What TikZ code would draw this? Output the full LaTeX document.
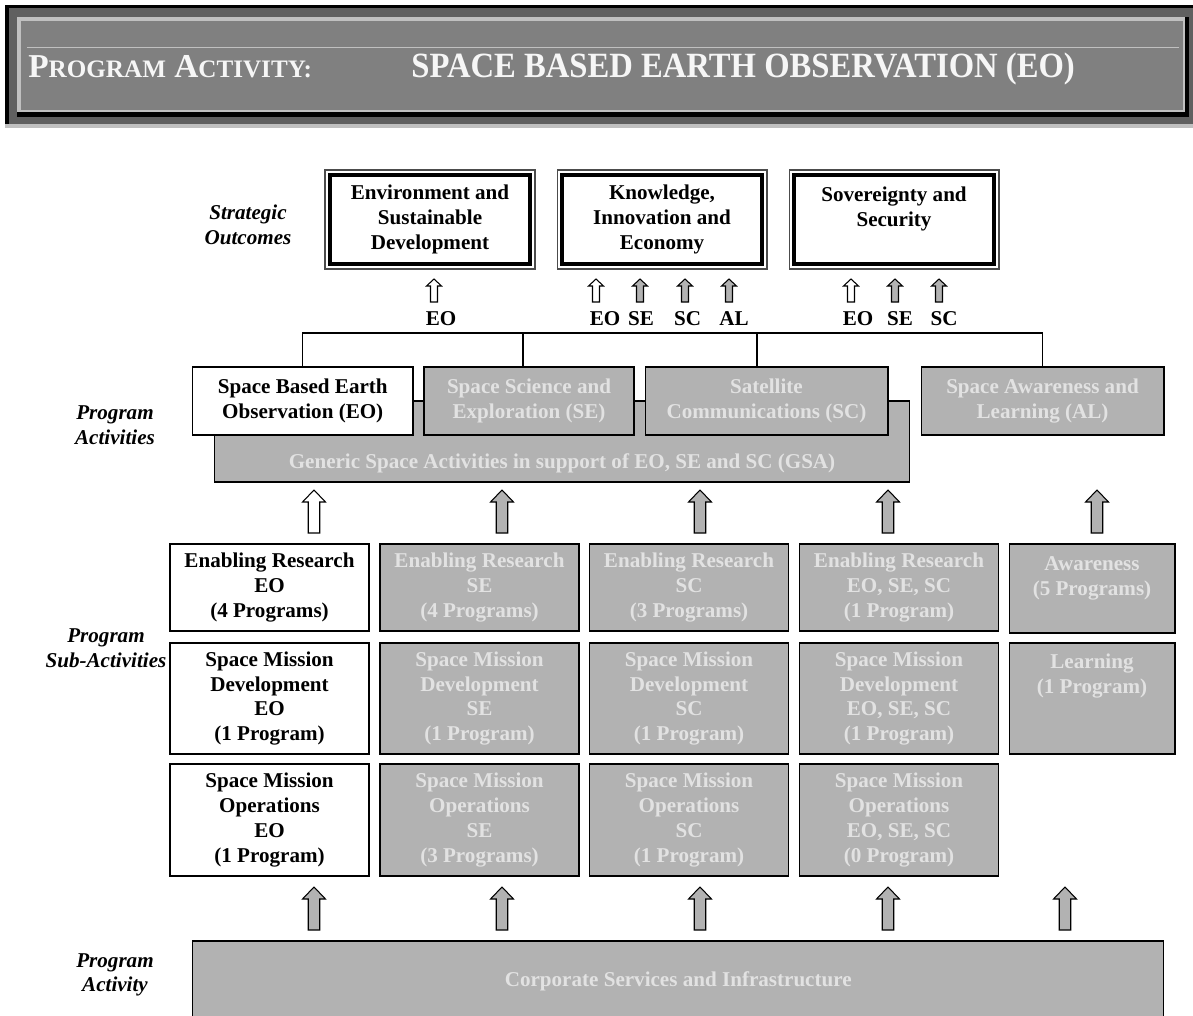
\documentclass[tikz,border=0pt]{standalone}
\usepackage{fontspec}
\setmainfont{Liberation Serif}
\newfontfamily\hdrfont[FakeStretch=0.92]{Liberation Serif}
\usetikzlibrary{calc}
\definecolor{BoxGray}{RGB}{178,178,178}
\definecolor{BoxText}{RGB}{226,226,226}
\definecolor{HdrDark}{RGB}{96,96,96}
\definecolor{HdrMid}{RGB}{128,128,128}
\definecolor{HdrLight}{RGB}{192,192,192}
\definecolor{HdrText}{RGB}{246,246,246}
\tikzset{
  % white box (EO branch)
  wbox/.style={
    draw=black,
    fill=white,
    line width=0.6pt,
    inner sep=0pt,
    align=center,
    font=\fontsize{12}{14.2}\selectfont\bfseries
  },
  % grey box (other branches)
  gbox/.style={wbox, fill=BoxGray, text=BoxText},
  % strategic outcome box
  obox/.style={wbox, line width=2.3pt, outer sep=0pt,
    minimum width=4cm, minimum height=1.78cm},
  % sub-activity boxes
  sub/.style={wbox, minimum width=3.98cm},
  gsub/.style={gbox, minimum width=3.98cm},
  % tree lines
  tree/.style={draw=black, line width=0.6pt},
  % labels under the outcomes
  tag/.style={font=\fontsize{12}{14}\selectfont\bfseries, inner sep=0pt},
  % row titles on the left
  side/.style={font=\fontsize{12}{14}\selectfont\bfseries\itshape, align=center},
  hdr/.style={text=HdrText, inner sep=0pt},
  % block arrows
  smallup/.pic={\filldraw[draw=black, line width=0.6pt, fill=#1]
    (-3.5,0) -- (-3.5,-16) -- (-7.5,-16) -- (0,-23) -- (7.5,-16) -- (3.5,-16) -- (3.5,0) -- cycle;},
  bigup/.pic={\filldraw[draw=black, line width=0.6pt, fill=#1]
    (-5.75,0) -- (-5.75,-31) -- (-11.5,-31) -- (0,-43) -- (11.5,-31) -- (5.75,-31) -- (5.75,0) -- cycle;}
}
\begin{document}
\begin{tikzpicture}[x=0.02cm, y=-0.02cm]
  \clip (0,0) rectangle (1193,1015);
  \fill[white] (0,0) rectangle (1193,1015);

  % header band
  \fill[HdrDark] (5,5) rectangle (1193,124);
  \fill[black] (5,5) rectangle (1193,8);
  \fill[black] (5,5) rectangle (9,124);
  \fill[black] (17,17) rectangle (1189,117);
  \fill[HdrLight] (17,17) rectangle (1185,112);
  \fill[HdrMid] (21,21) rectangle (1183,110);
  \draw[HdrLight, line width=0.5pt] (27,47) -- (1179,47);
  \fill[HdrLight] (5,124) rectangle (1193,128);
  \node[hdr, anchor=base west, font=\fontsize{19}{19}\selectfont\bfseries] (pact) at (28,77)
    {P{\fontsize{14.3}{14}\selectfont ROGRAM} A{\fontsize{14.3}{14}\selectfont CTIVITY:}};
  \node[hdr, anchor=base west, font=\hdrfont\fontsize{20.2}{20}\selectfont\bfseries] (pname) at (411,77)
    {SPACE BASED EARTH OBSERVATION (EO)};

  % row titles
  \node[side] (lso)  at (248,225) {Strategic\\Outcomes};
  \node[side] (lpa)  at (115,425) {Program\\Activities};
  \node[side] (lpsa) at (106,648) {Program\\Sub-Activities};
  \node[side] (lcs)  at (115,975) {Program\\Activity};

  % strategic outcomes
  \node[obox] (so1) at (430,219.5) {Environment and\\Sustainable\\Development};
  \node[obox] (so2) at (662,219.5) {Knowledge,\\Innovation and\\Economy};
  \node[obox] (so3) at (894,219.5) {Sovereignty and\\Security\\~};
  \foreach \n in {so1,so2,so3}
    \draw[line width=0.6pt, draw=black!70] ([shift={(-5,-5)}]\n.north west) rectangle ([shift={(5,5)}]\n.south east);

  % contributions to the outcomes
  \pic at (434,302) {smallup=white};
  \pic at (596,302) {smallup=white};
  \pic at (640,302) {smallup=BoxGray};
  \pic at (685,302) {smallup=BoxGray};
  \pic at (729,302) {smallup=BoxGray};
  \pic at (851,302) {smallup=white};
  \pic at (895,302) {smallup=BoxGray};
  \pic at (939,302) {smallup=BoxGray};
  \node[tag] (t1eo) at (441,319) {EO};
  \node[tag] (t2eo) at (605,319) {EO};
  \node[tag] (t2se) at (641,319) {SE};
  \node[tag] (t2sc) at (687.5,319) {SC};
  \node[tag] (t2al) at (734,319) {AL};
  \node[tag] (t3eo) at (858,319) {EO};
  \node[tag] (t3se) at (900,319) {SE};
  \node[tag] (t3sc) at (944,319) {SC};

  % program activities
  \node[gbox, minimum width=13.92cm, minimum height=1.62cm] (gsa) at (562,441.5) {};
  \node[tag, text=BoxText] (gsat) at ($(gsa.south)+(0,-19)$)
    {Generic Space Activities in support of EO, SE and SC (GSA)};
  \node[wbox, minimum width=4.41cm, minimum height=1.36cm] (eo) at (302.75,401)
    {Space Based Earth\\Observation (EO)};
  \node[gbox, minimum width=4.2cm, minimum height=1.36cm] (se) at (529,401)
    {Space Science and\\Exploration (SE)};
  \node[gbox, minimum width=4.86cm, minimum height=1.36cm] (sc) at (766.5,401)
    {Satellite\\Communications (SC)};
  \node[gbox, minimum width=4.86cm, minimum height=1.36cm] (al) at (1042.5,401)
    {Space Awareness and\\Learning (AL)};

  \coordinate (bus) at (0,333);
  \draw[tree] (eo.north) -- (eo.north |- bus) -- (bus -| al.north) -- (al.north);
  \draw[tree] ([shift={(-6,0)}]se.north) -- ([shift={(-6,0)}]se.north |- bus);
  \draw[tree] ([shift={(-9.5,0)}]sc.north) -- ([shift={(-9.5,0)}]sc.north |- bus);

  \pic at (314,533) {bigup=white};
  \pic at (502,533) {bigup=BoxGray};
  \pic at (700,533) {bigup=BoxGray};
  \pic at (888,533) {bigup=BoxGray};
  \pic at (1097,533) {bigup=BoxGray};

  % program sub-activities
  \node[sub,  minimum height=1.74cm] (reseo) at (269.5,587.5) {Enabling Research\\EO\\(4 Programs)};
  \node[gsub, minimum height=1.74cm] (resse) at (479.5,587.5) {Enabling Research\\SE\\(4 Programs)};
  \node[gsub, minimum height=1.74cm] (ressc) at (689,587.5)   {Enabling Research\\SC\\(3 Programs)};
  \node[gsub, minimum height=1.74cm] (resgs) at (899,587.5)   {Enabling Research\\EO, SE, SC\\(1 Program)};
  \node[gbox, minimum width=3.32cm, minimum height=1.78cm] (aware) at (1092,588.5) {Awareness\\(5 Programs)\\~};

  \node[sub,  minimum height=2.22cm] (deveo) at (269.5,698.5) {Space Mission\\Development\\EO\\(1 Program)};
  \node[gsub, minimum height=2.22cm] (devse) at (479.5,698.5) {Space Mission\\Development\\SE\\(1 Program)};
  \node[gsub, minimum height=2.22cm] (devsc) at (689,698.5)   {Space Mission\\Development\\SC\\(1 Program)};
  \node[gsub, minimum height=2.22cm] (devgs) at (899,698.5)   {Space Mission\\Development\\EO, SE, SC\\(1 Program)};
  \node[gbox, minimum width=3.32cm, minimum height=2.22cm] (learn) at (1092,698.5) {Learning\\(1 Program)\\~\\~};

  \node[sub,  minimum height=2.24cm] (opseo) at (269.5,820) {Space Mission\\Operations\\EO\\(1 Program)};
  \node[gsub, minimum height=2.24cm] (opsse) at (479.5,820) {Space Mission\\Operations\\SE\\(3 Programs)};
  \node[gsub, minimum height=2.24cm] (opssc) at (689,820)   {Space Mission\\Operations\\SC\\(1 Program)};
  \node[gsub, minimum height=2.24cm] (opsgs) at (899,820)   {Space Mission\\Operations\\EO, SE, SC\\(0 Program)};

  \pic at (314,930) {bigup=BoxGray};
  \pic at (502,930) {bigup=BoxGray};
  \pic at (700,930) {bigup=BoxGray};
  \pic at (888,930) {bigup=BoxGray};
  \pic at (1065,930) {bigup=BoxGray};

  % corporate services
  \node[gbox, minimum width=19.43cm, minimum height=1.6cm] (csi) at (678.25,981)
    {Corporate Services and Infrastructure};
\end{tikzpicture}
\end{document}
